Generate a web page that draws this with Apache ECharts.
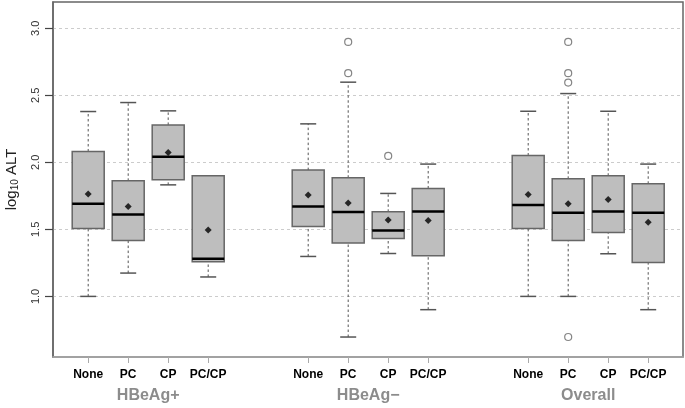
<!DOCTYPE html>
<html>
<head>
<meta charset="utf-8">
<script src="https://cdn.jsdelivr.net/npm/echarts@6/dist/echarts.min.js"></script>
<style>
  html, body { margin: 0; padding: 0; background: #fff; }
  #main { width: 685px; height: 408px; }
</style>
</head>
<body>
<div id="main"></div>
<script>
// 分类与分组
const categories = ['None', 'PC', 'CP', 'PC/CP'];
const groups = ['HBeAg+', 'HBeAg\u2212', 'Overall'];
// 每个箱子在 x 轴上的位置
const positions = [0, 1, 2, 3, 5.5, 6.5, 7.5, 8.5, 11, 12, 13, 14];
const groupCenters = [1.5, 7, 12.5];
const yTicks = [1.0, 1.5, 2.0, 2.5, 3.0];

// 箱线数据: [下须, Q1, 中位数, Q3, 上须]
const boxPos = [
  [1.000, 1.507, 1.691, 2.081, 2.379],
  [1.174, 1.417, 1.611, 1.862, 2.446],
  [1.832, 1.870, 2.041, 2.279, 2.384],
  [1.145, 1.258, 1.281, 1.900, 1.900]
];
const boxNeg = [
  [1.298, 1.522, 1.671, 1.942, 2.287],
  [0.697, 1.398, 1.629, 1.885, 2.598],
  [1.320, 1.432, 1.492, 1.631, 1.768],
  [0.901, 1.303, 1.633, 1.805, 1.987]
];
const boxAll = [
  [1.000, 1.507, 1.681, 2.051, 2.381],
  [1.000, 1.417, 1.624, 1.877, 2.513],
  [1.318, 1.477, 1.633, 1.900, 2.381],
  [0.901, 1.253, 1.624, 1.840, 1.987]
];

// 均值
const meanPos = [1.763, 1.671, 2.073, 1.495];
const meanNeg = [1.756, 1.696, 1.569, 1.566];
const meanAll = [1.760, 1.691, 1.723, 1.554];

// 离群点
const outPos = [[], [], [], []];
const outNeg = [[], [2.898, 2.665], [2.048], []];
const outAll = [[], [2.898, 2.665, 2.595, 0.697], [], []];

// 组装数据
const allBoxes = boxPos.concat(boxNeg, boxAll);
const allMeans = meanPos.concat(meanNeg, meanAll);
const allOut = outPos.concat(outNeg, outAll);

const boxData = allBoxes.map((b, i) => [positions[i]].concat(b));
const meanData = allMeans.map((m, i) => [positions[i], m]);
const outData = [];
allOut.forEach((list, i) => {
  list.forEach(v => outData.push([positions[i], v]));
});

function labelAt(v) {
  const idx = positions.indexOf(v);
  return idx >= 0 ? categories[idx % 4] : '';
}

function renderBox(params, api) {
  const x = api.value(0);
  const low = api.coord([x, api.value(1)]);
  const q1 = api.coord([x, api.value(2)]);
  const med = api.coord([x, api.value(3)]);
  const q3 = api.coord([x, api.value(4)]);
  const high = api.coord([x, api.value(5)]);
  const half = api.size([0.8, 0])[0] / 2;
  const cap = half / 2;
  const cx = q1[0];
  const whisk = { stroke: '#555', lineWidth: 1, lineDash: [2.5, 2.5] };
  const capStyle = { stroke: '#555', lineWidth: 1.5 };
  return {
    type: 'group',
    children: [
      { type: 'line', shape: { x1: cx, y1: q3[1], x2: cx, y2: high[1] }, style: whisk },
      { type: 'line', shape: { x1: cx, y1: low[1], x2: cx, y2: q1[1] }, style: whisk },
      { type: 'line', shape: { x1: cx - cap, y1: high[1], x2: cx + cap, y2: high[1] }, style: capStyle },
      { type: 'line', shape: { x1: cx - cap, y1: low[1], x2: cx + cap, y2: low[1] }, style: capStyle },
      {
        type: 'rect',
        shape: { x: cx - half, y: q3[1], width: half * 2, height: q1[1] - q3[1] },
        style: { fill: '#bebebe', stroke: '#666', lineWidth: 1.5 }
      },
      { type: 'line', shape: { x1: cx - half, y1: med[1], x2: cx + half, y2: med[1] }, style: { stroke: '#000', lineWidth: 2.5 } }
    ]
  };
}

var myChart = echarts.init(document.getElementById('main'));

var option = {
  animation: false,
  grid: {
    left: 53, right: 2, top: 2, bottom: 51,
    containLabel: false, outerBoundsMode: 'none',
    show: true, borderColor: '#666', borderWidth: 1.5, backgroundColor: 'transparent'
  },
  xAxis: [
    {
      type: 'value', min: -0.88, max: 14.87,
      splitLine: { show: false },
      axisLine: { show: true, onZero: false, lineStyle: { color: '#aaa', width: 1.5 } },
      axisTick: { show: true, customValues: positions, length: 6, lineStyle: { color: '#aaa' } },
      axisLabel: {
        customValues: positions, margin: 12,
        fontFamily: 'Liberation Sans', fontSize: 12, fontWeight: 'bold', color: '#000',
        formatter: labelAt
      }
    },
    {
      type: 'value', min: -0.88, max: 14.87, position: 'bottom',
      splitLine: { show: false },
      axisLine: { show: false, onZero: false },
      axisTick: { show: false },
      axisLabel: {
        customValues: groupCenters, margin: 31,
        fontFamily: 'Liberation Sans', fontSize: 16, fontWeight: 'bold', color: '#8c8c8c',
        formatter: v => groups[groupCenters.indexOf(v)] || ''
      }
    }
  ],
  yAxis: {
    type: 'value', min: 0.548, max: 3.196, position: 'left',
    name: 'log{sub|10} ALT',
    nameLocation: 'middle', nameGap: 33, nameRotate: 90,
    nameTextStyle: {
      fontFamily: 'Liberation Sans', fontSize: 15, color: '#222',
      rich: {
        sub: { fontFamily: 'Liberation Sans', fontSize: 10, color: '#222', padding: [6, 0, 0, 0] }
      }
    },
    // 网格虚线
    splitLine: { show: true, lineStyle: { color: '#ccc', type: [3, 3], width: 1 } },
    axisLine: { show: true, onZero: false, lineStyle: { color: '#666', width: 1.5 } },
    axisTick: { show: true, customValues: yTicks, length: 8, lineStyle: { color: '#444', width: 1.2 } },
    axisLabel: {
      customValues: yTicks, rotate: 90, margin: 12,
      fontFamily: 'Liberation Sans', fontSize: 11, color: '#333',
      formatter: v => v.toFixed(1)
    }
  },
  series: [
    {
      type: 'custom',
      renderItem: renderBox,
      encode: { x: 0, y: [1, 2, 3, 4, 5] },
      data: boxData,
      z: 3
    },
    {
      type: 'scatter',
      symbol: 'diamond', symbolSize: 7,
      itemStyle: { color: '#000' },
      data: meanData,
      z: 5
    },
    {
      type: 'scatter',
      symbol: 'circle', symbolSize: 7,
      itemStyle: { color: '#fff', borderColor: '#666', borderWidth: 1.2 },
      data: outData,
      z: 5
    }
  ]
};

myChart.setOption(option);
</script>
</body>
</html>
